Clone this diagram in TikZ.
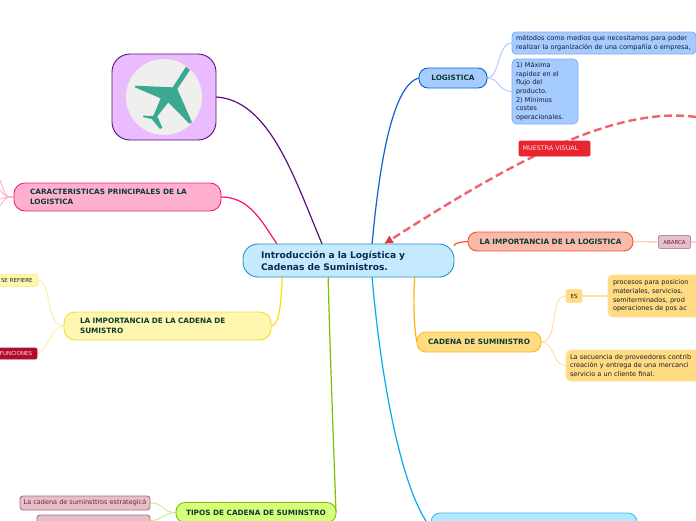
\documentclass[tikz,border=0pt]{standalone}
\usepackage{fontspec}
\setmainfont{DejaVu Sans}
\usetikzlibrary{backgrounds,arrows.meta}
\definecolor{headtxt}{HTML}{0C3B33}
\definecolor{maintxt}{HTML}{0A2A50}
\definecolor{bodytxt}{HTML}{1A1A2E}
\definecolor{bluefill}{HTML}{A6CBFF}
\definecolor{orangefill}{HTML}{FFDC82}
\definecolor{rosefill}{HTML}{E6C0C8}
\tikzset{
  x=1pt,y=-1pt,
  box/.style={anchor=north west,inner ysep=0pt,inner xsep=#1,outer sep=0pt,align=left,line width=.9pt},
  box/.default=4pt,
  headfont/.style={font=\fontsize{7.3}{9.5}\bfseries\selectfont,text=headtxt},
  bodyfont/.style={font=\fontsize{6.55}{8.7}\selectfont,text=bodytxt},
  tagfont/.style={font=\fontsize{5.5}{7}\selectfont},
  thin link/.style={line width=.9pt},
  main link/.style={line width=1.2pt},
}
\begin{document}
\begin{tikzpicture}
\useasboundingbox (0,0) rectangle (696,520);
\clip (0,0) rectangle (696,520);
% central node
\node[box=18pt,minimum width=211,minimum height=33,text width=175,rounded corners=15,fill={rgb,255:red,197;green,234;blue,253},draw={rgb,255:red,32;green,144;blue,208},font=\fontsize{9.1}{12}\bfseries\selectfont,text=maintxt] (main) at (243,244) {Introducción a la Logística y\\Cadenas de Suministros.};
% picture node
\node[box,minimum width=104,minimum height=86,rounded corners=18,fill={rgb,255:red,235;green,187;blue,255},draw={rgb,255:red,91;green,15;blue,122}] (plane) at (112,54) {};
\fill[fill={rgb,255:red,239;green,240;blue,238}] (164,97) circle (38);
\begin{scope}[shift={(100,45)},x=.3333pt,y=-.3333pt]
\fill[fill={rgb,255:red,59;green,168;blue,146}] (258,65)--(270,75)--(232,132)--(276,232)--(268,236)--(205,172)--(172,214)--(187,248)--(180,252)--(155,222)--(129,216)--(130,212)--(160,213)--(182,160)--(105,127)--(106,122)--(218,127)--cycle;
\end{scope}
% LOGISTICA
\node[box=0pt,headfont,minimum width=68,minimum height=20,rounded corners=9,align=center,fill=bluefill,draw={rgb,255:red,16;green,96;blue,208}] (logi) at (419,68) {LOGISTICA};
\node[box,bodyfont,minimum width=182,minimum height=22,text width=176,rounded corners=4,fill=bluefill,draw={rgb,255:red,127;green,176;blue,245}] (lg1) at (512,32) {métodos como medios que necesitamos para poder\\realizar la organización de una compañía o empresa,};
\node[box,bodyfont,minimum width=64,minimum height=65,text width=58,rounded corners=5,fill=bluefill,draw={rgb,255:red,127;green,176;blue,245}] (lg2) at (512,59) {1) Máxima\\rapidez en el\\flujo del\\producto.\\2) Mínimos\\costes\\operacionales.};
% muestra visual
\coordinate (far) at (696,117);
\node[box=0pt,align=center,minimum width=71,minimum height=15,rounded corners=2,fill={rgb,255:red,232;green,37;blue,47},draw={rgb,255:red,232;green,37;blue,47},font=\fontsize{6.4}{7}\selectfont,text={rgb,255:red,255;green,225;blue,225}] (muestra) at (519,141) {MUESTRA VISUAL\hspace{8pt}};
% importancia logistica
\node[box=0pt,headfont,align=center,minimum width=165,minimum height=19,rounded corners=9,fill={rgb,255:red,249;green,186;blue,169},draw={rgb,255:red,240;green,86;blue,42}] (imp) at (468,232) {LA IMPORTANCIA DE LA LOGISTICA};
\node[box=0pt,tagfont,align=center,minimum width=32,minimum height=13,rounded corners=2,fill=rosefill,draw={rgb,255:red,184;green,144;blue,160},text={rgb,255:red,106;green,32;blue,64}] (abarca) at (658.5,235.5) {ABARCA};
\coordinate (abarcaout) at (696,242);
% cadena
\node[box=0pt,headfont,align=center,minimum width=124,minimum height=20,rounded corners=9,fill=orangefill,draw={rgb,255:red,255;green,184;blue,28}] (cad) at (417,332) {CADENA DE SUMINISTRO};
\node[box=0pt,tagfont,align=center,minimum width=16,minimum height=13,rounded corners=2,fill=orangefill,draw={rgb,255:red,255;green,224;blue,160},text=bodytxt] (es) at (566,289.5) {ES};
\node[box=5pt,bodyfont,minimum width=120,minimum height=42,text width=110,rounded corners=5,fill=orangefill,draw={rgb,255:red,255;green,224;blue,160}] (proc) at (608,275) {procesos para posicion\\materiales, servicios,\\semiterminados, prod\\operaciones de pos ac};
\node[box=4pt,bodyfont,minimum width=160,minimum height=31,text width=152,rounded corners=5,fill=orangefill,draw={rgb,255:red,255;green,224;blue,160}] (sec) at (566,350) {La secuencia de proveedores contrib\\creación y entrega de una mercanci\\servicio a un cliente final.};
% caracteristicas
\node[box=16pt,headfont,minimum width=207,minimum height=28,text width=175,rounded corners=11,fill={rgb,255:red,255;green,176;blue,208},draw={rgb,255:red,240;green,32;blue,122}] (car) at (14,183) {CARACTERISTICAS PRINCIPALES DE LA\\LOGISTICA};
\coordinate (ca) at (0,180);\coordinate (cb) at (0,190);\coordinate (cc) at (0,199);\coordinate (cd) at (0,206);
% importancia cadena
\node[box=16pt,headfont,minimum width=207,minimum height=28,text width=175,rounded corners=11,fill={rgb,255:red,255;green,246;blue,176},draw={rgb,255:red,245;green,220;blue,46}] (impc) at (64,312) {LA IMPORTANCIA DE LA CADENA DE\\SUMISTRO};
\node[box=0pt,tagfont,minimum width=40,minimum height=12,text width=38,rounded corners=2,fill={rgb,255:red,255;green,246;blue,176},draw={rgb,255:red,255;green,238;blue,144},text=bodytxt] (sere) at (-2,274.5) {\hspace{2pt}SE REFIERE};
\node[box=0pt,tagfont,minimum width=39,minimum height=11,text width=37,rounded corners=2,fill={rgb,255:red,176;green,12;blue,48},draw={rgb,255:red,176;green,12;blue,48},text={rgb,255:red,255;green,225;blue,225}] (func) at (-2,348) {\hspace{1pt}FUNCIONES};
% tipos
\node[box=0pt,headfont,align=center,minimum width=160,minimum height=20,rounded corners=9,fill={rgb,255:red,213;green,255;blue,122},draw={rgb,255:red,128;green,190;blue,0}] (tipos) at (176,502.5) {TIPOS DE CADENA DE SUMINSTRO};
\node[box=0pt,align=center,font=\fontsize{6.5}{8}\selectfont,minimum width=130,minimum height=14,rounded corners=3,fill=rosefill,draw={rgb,255:red,168;green,112;blue,128},text={rgb,255:red,106;green,32;blue,64}] (ros1) at (20,496) {La cadena de suminsttros estrategicá};
\node[box=0pt,minimum width=113,minimum height=12,rounded corners=3,fill=rosefill,draw={rgb,255:red,168;green,112;blue,128}] (ros2) at (37,515) {};
% bottom blue
\node[box=0pt,minimum width=206,minimum height=30,rounded corners=9,fill={rgb,255:red,181;green,232;blue,255},draw={rgb,255:red,64;green,192;blue,240}] (bot) at (431,513) {};
% connectors
\begin{pgfonlayer}{background}
\fill[white] (0,0) rectangle (696,520);
\draw[main link,draw={rgb,255:red,16;green,96;blue,208}] (main.35) .. controls (378,180) and (390,85) .. (logi.west);
\draw[main link,draw={rgb,255:red,91;green,15;blue,122}] (plane.east) .. controls (270,100) and (295,180) .. (main.148.1);
\draw[main link,draw={rgb,255:red,255;green,10;blue,120}] (car.east) .. controls (250,197) and (262,222) .. (main.167.35);
\draw[main link,draw={rgb,255:red,255;green,222;blue,0}] (main.194.1) .. controls (281,300) and (280,326) .. (impc.east);
\draw[main link,draw={rgb,255:red,128;green,190;blue,0}] (main.-141.2) .. controls (330,350) and (333,430) .. (tipos.east);
\draw[main link,draw={rgb,255:red,0;green,174;blue,239}] (main.-35.1) .. controls (380,370) and (400,490) .. (bot.west);
\draw[main link,draw={rgb,255:red,255;green,180;blue,0}] (main.-14.35) .. controls (413,300) and (414,330) .. (cad.west);
\draw[main link,draw={rgb,255:red,240;green,86;blue,42}] (main.8.9) .. controls (455,243) and (460,242) .. (imp.west);
\draw[line width=2.4pt,dash pattern=on 8pt off 4pt,draw={rgb,255:red,240;green,99;blue,110},-{Latex[length=9pt,width=9pt,color={rgb,255:red,232;green,50;blue,60}]}] (far) .. controls (610,105) and (500,170) .. (main.25.5);
\draw[thin link,draw={rgb,255:red,166;green,203;blue,255}] (logi.east) .. controls (500,78) and (497,43) .. (lg1.west);
\draw[thin link,draw={rgb,255:red,166;green,203;blue,255}] (logi.east) .. controls (500,78) and (497,91) .. (lg2.west);
\draw[line width=1.4pt,draw={rgb,255:red,252;green,208;blue,197}] (imp.east) -- (abarca.west);
\draw[line width=1.4pt,draw={rgb,255:red,252;green,208;blue,197}] (abarca.east) -- (abarcaout);
\draw[thin link,draw={rgb,255:red,255;green,224;blue,153}] (cad.east) .. controls (560,342) and (548,296) .. (es.west);
\draw[thin link,draw={rgb,255:red,255;green,224;blue,153}] (cad.east) .. controls (555,342) and (552,366) .. (sec.west);
\draw[line width=1.2pt,draw={rgb,255:red,255;green,224;blue,153}] (es.east) -- (proc.west);
\foreach \t in {ca,cb,cc,cd}{\draw[thin link,draw={rgb,255:red,255;green,176;blue,208}] (car.west) .. controls (6,197) and (6,197) .. (\t);}
\draw[thin link,draw={rgb,255:red,255;green,240;blue,160}] (impc.west) .. controls (45,326) and (52,280) .. (sere.east);
\draw[thin link,draw={rgb,255:red,255;green,240;blue,160}] (impc.west) .. controls (50,326) and (48,353) .. (func.east);
\draw[thin link,draw={rgb,255:red,205;green,232;blue,140}] (tipos.west) .. controls (160,512) and (165,503) .. (ros1.east);
\draw[thin link,draw={rgb,255:red,205;green,232;blue,140}] (tipos.west) .. controls (165,512) and (160,521) .. (ros2.east);
\end{pgfonlayer}
\end{tikzpicture}
\end{document}
